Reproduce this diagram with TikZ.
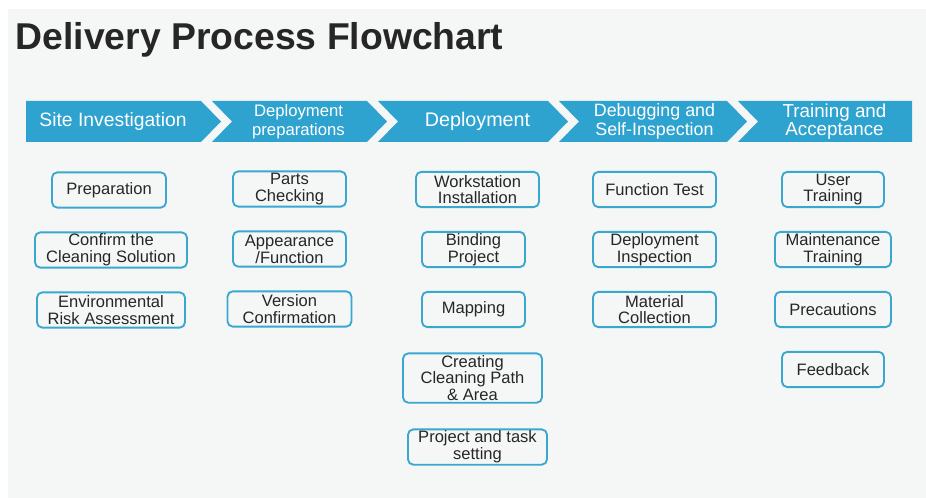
\documentclass[tikz,border=0pt]{standalone}
\usepackage{fontspec}
\setmainfont{Liberation Sans}
\setsansfont{Liberation Sans}
\usepackage{tikz}
\usetikzlibrary{positioning}
\definecolor{ChevBlue}{HTML}{2FA3CF}
\definecolor{BoxLine}{HTML}{3AA7CE}
\definecolor{PageGray}{HTML}{F5F7F7}
\definecolor{InkGray}{HTML}{262626}

\begin{document}
\begin{tikzpicture}[
			x=0.75pt, y=-0.75pt,
			node distance=17.1pt,
			chev/.style={inner sep=0pt, text=white, align=center},
			box/.style={rectangle, draw=BoxLine, line width=1.4pt, fill=PageGray, rounded corners=4pt, minimum height=26.5pt, inner sep=1pt, align=center, text=InkGray, font=\fontsize{12.4}{12.6}\selectfont},
			]
			\useasboundingbox (0,0) rectangle (926,498);
			\fill[white] (0,0) rectangle (926,498);
			\fill[PageGray] (8,9) rectangle (926,498);

			\node (title) [anchor=base west, inner sep=0pt, text=InkGray, font=\fontsize{28}{32}\selectfont\bfseries] at (15.5,50) {Delivery Process Flowchart};

			% process steps
			\fill[ChevBlue] (26,101) -- (201,101) -- (221,121.5) -- (201,142) -- (26,142) -- cycle;
			\foreach \a/\b in {212/367, 378/548, 559/727}
				\fill[ChevBlue] (\a,101) -- (\b,101) -- (\b+20,121.5) -- (\b,142) -- (\a,142) -- (\a+20,121.5) -- cycle;
			\fill[ChevBlue] (738,101) -- (912,101) -- (912,142) -- (738,142) -- (758,121.5) -- cycle;

			\node (site) [chev, font=\fontsize{14.5}{14}\selectfont] at (113,121.5) {Site Investigation};
			\node (prepa) [chev, font=\fontsize{12.5}{14}\selectfont] at (298.5,122) {Deployment\\preparations};
			\node (deploy) [chev, font=\fontsize{14.8}{14}\selectfont] at (477.5,121.5) {Deployment};
			\node (debug) [chev, font=\fontsize{13.4}{14}\selectfont] at (654.5,121.5) {Debugging and\\Self-Inspection};
			\node (accept) [chev, font=\fontsize{14.1}{14}\selectfont] at (834.5,121.5) {Training and\\Acceptance};

			% site investigation
			\node (prep) [box, minimum width=85.5pt] at (109,190) {Preparation};
			\node (confirm) [box, minimum width=114pt, below=of prep, xshift=1.5pt] {Confirm the\\Cleaning Solution};
			\node (envrisk) [box, minimum width=111pt, below=of confirm] {Environmental\\Risk Assessment};

			% deployment preparations
			\node (parts) [box, minimum width=84.75pt] at (289.5,189) {Parts\\Checking};
			\node (appear) [box, minimum width=84.75pt, below=of parts] {Appearance\\/Function};
			\node (version) [box, minimum width=93pt, below=of appear] {Version\\Confirmation};

			% deployment
			\node (workst) [box, minimum width=92.25pt] at (477.5,189.5) {Workstation\\Installation};
			\node (binding) [box, minimum width=77.25pt, below=of workst, xshift=-3pt] {Binding\\Project};
			\node (mapping) [box, minimum width=77.25pt, below=of binding] {Mapping};
			\node (cleanpath) [box, minimum width=104.25pt, minimum height=37pt, below=18.25pt of mapping, xshift=-0.75pt] {Creating\\Cleaning Path\\\& Area};
			\node (projtask) [box, minimum width=104.25pt, below=18.6pt of cleanpath, xshift=3.75pt] {Project and task\\setting};

			% debugging and self-inspection
			\node (functest) [box, minimum width=92.25pt] at (654.5,189.5) {Function Test};
			\node (depinsp) [box, minimum width=92.25pt, below=of functest] {Deployment\\Inspection};
			\node (material) [box, minimum width=92.25pt, below=of depinsp] {Material\\Collection};

			% training and acceptance
			\node (usertr) [box, minimum width=76.5pt] at (833,189.5) {User\\Training};
			\node (mainttr) [box, minimum width=87pt, below=of usertr] {Maintenance\\Training};
			\node (precaut) [box, minimum width=87pt, below=of mainttr] {Precautions};
			\node (feedback) [box, minimum width=76.5pt, below=of precaut] {Feedback};
		\end{tikzpicture}
\end{document}
